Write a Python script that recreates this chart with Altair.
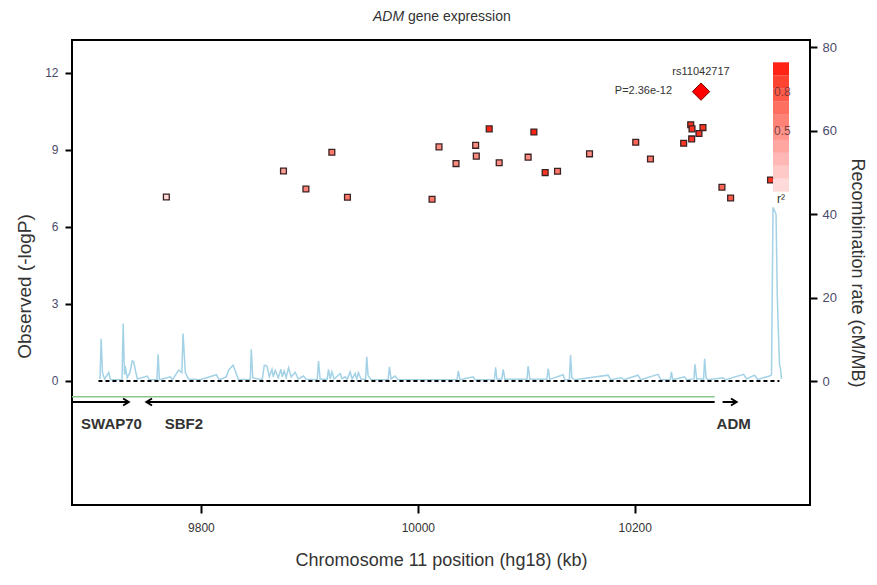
import altair as alt
import pandas as pd

FONT = "Liberation Sans"

# ---- SNP association results (-log10 P) ----
snp_kb = [9768.1, 9876.1, 9896.8, 9920.7, 9935.1, 10013.1, 10019.5, 10035.2, 10053.3, 10053.9,
          10065.8, 10075.0, 10101.7, 10107.0, 10117.4, 10128.8, 10158.3, 10200.9, 10214.5,
          10245.1, 10251.6, 10252.8, 10262.9, 10259.2, 10252.5, 10280.4, 10288.4, 10325.2]
snp_logp = [7.16, 8.17, 7.47, 8.90, 7.15, 7.07, 9.11, 8.46, 9.17, 8.75,
            9.81, 8.49, 8.71, 9.69, 8.11, 8.16, 8.84, 9.29, 8.64,
            9.25, 9.97, 9.81, 9.86, 9.63, 9.42, 7.54, 7.12, 7.82]
snp_r2 = [0.05, 0.4, 0.55, 0.6, 0.6, 0.6, 0.5, 0.5, 0.5, 0.5,
          0.95, 0.5, 0.5, 0.95, 0.9, 0.6, 0.5, 0.7, 0.6,
          0.9, 0.9, 0.9, 0.9, 0.9, 0.9, 0.7, 0.75, 0.9]

# ---- top SNP ----
top_name = ["rs11042717"]
top_kb = [10261.1]
top_logp = [11.26]
top_plabel = ["P=2.36e-12"]

# ---- recombination rate (cM/Mb) ----
recomb_kb = [9706.9, 9708.0, 9709.2, 9711.1, 9715.0, 9716.6, 9727.2, 9728.3, 9729.5, 9730.1,
             9732.0, 9734.5, 9736.6, 9738.0, 9739.6, 9741.4, 9750.4, 9752.5, 9759.4, 9760.5,
             9761.7, 9771.8, 9773.7, 9779.5, 9782.4, 9783.5, 9785.6, 9788.4, 9799.4, 9814.2,
             9816.9, 9823.4, 9825.5, 9829.6, 9831.7, 9834.4, 9845.5, 9846.4, 9847.8, 9856.5,
             9858.4, 9860.9, 9863.0, 9865.5, 9866.7, 9868.5, 9871.3, 9873.8, 9875.0, 9876.8,
             9878.6, 9880.8, 9883.2, 9886.9, 9889.7, 9894.6, 9897.1, 9907.2, 9908.4, 9909.9,
             9916.4, 9917.6, 9919.2, 9920.7, 9922.8, 9928.4, 9930.2, 9933.0, 9934.8, 9937.6,
             9939.4, 9942.2, 9943.6, 9945.2, 9947.7, 9951.8, 9952.9, 9954.1, 9956.9, 9972.6,
             9973.8, 9975.3, 9979.0, 9981.8, 10036.1, 10037.3, 10038.9, 10051.1, 10052.7, 10070.6,
             10071.7, 10072.9, 10077.5, 10078.7, 10080.3, 10100.6, 10101.7, 10103.3, 10119.0, 10120.2,
             10121.7, 10134.0, 10135.5, 10139.7, 10140.8, 10142.0, 10144.8, 10175.4, 10177.9, 10187.8,
             10189.9, 10203.0, 10205.5, 10221.5, 10224.0, 10232.7, 10233.8, 10235.0, 10246.0, 10247.9,
             10254.6, 10255.5, 10257.1, 10263.5, 10264.4, 10265.8, 10267.2, 10281.3, 10283.8, 10300.4,
             10303.1, 10310.5, 10313.3, 10324.3, 10326.1, 10327.5, 10330.3, 10331.4, 10332.3, 10333.5,
             10334.4, 10335.3]
recomb_rate = [0.5, 10.1, 2.0, 0.5, 2.0, 0.3, 0.3, 13.8, 1.5, 3.6,
               0.8, 2.0, 4.8, 4.6, 2.5, 0.5, 1.2, 0.3, 0.3, 6.4,
               0.3, 1.0, 0.3, 2.6, 2.0, 11.4, 2.0, 0.5, 0.3, 1.5,
               0.3, 1.0, 2.6, 3.8, 2.4, 0.4, 0.3, 7.6, 0.8, 0.3,
               3.8, 3.6, 1.0, 2.8, 1.0, 2.6, 0.8, 2.8, 1.0, 2.4,
               0.8, 3.2, 1.0, 2.1, 0.5, 1.2, 0.4, 0.3, 4.8, 0.4,
               0.4, 2.8, 0.5, 2.2, 0.5, 1.8, 0.5, 1.0, 0.4, 2.2,
               0.5, 1.8, 0.5, 2.0, 0.4, 0.4, 5.8, 1.3, 0.3, 0.3,
               3.4, 0.5, 1.2, 0.3, 0.3, 2.4, 0.3, 1.0, 0.3, 0.3,
               3.3, 0.5, 0.5, 2.8, 0.4, 0.4, 3.6, 0.4, 0.4, 3.0,
               0.4, 1.5, 0.3, 0.3, 6.2, 0.8, 0.3, 1.4, 0.3, 0.8,
               0.3, 1.4, 0.3, 1.6, 0.3, 0.3, 2.2, 0.3, 1.0, 0.3,
               0.5, 4.0, 0.5, 0.5, 5.3, 0.8, 0.3, 0.8, 0.3, 1.6,
               0.5, 1.4, 0.4, 1.2, 1.5, 41.6, 40.0, 20.8, 12.8, 4.0,
               3.0, 0.5]

# ---- SNP span (dashed baseline) ----
span_start = [9705.5]
span_end = [10333.4]

# ---- genes ----
gene_name = ["SWAP70", "SBF2", "ADM"]
gene_start = [9681.1, 9749.7, 10281.0]
gene_end = [9733.4, 10273.7, 10293.9]
gene_strand = ["+", "-", "+"]
gene_label_kb = [9717.5, 9784.3, 10291.2]
track_start = [9681.1]
track_end = [10273.7]

# ---- r^2 colour key ----
band_lo = [0.0, 0.1, 0.2, 0.3, 0.4, 0.5, 0.6, 0.7, 0.8, 0.9]
band_hi = [0.1, 0.2, 0.3, 0.4, 0.5, 0.6, 0.7, 0.8, 0.9, 1.0]
band_mid = [0.05, 0.15, 0.25, 0.35, 0.45, 0.55, 0.65, 0.75, 0.85, 0.95]
key_labels = ["0.8", "0.5"]
key_label_vals = [0.8, 0.5]

# axis ticks
x_ticks = [9800, 10000, 10200]
y_ticks = [0, 3, 6, 9, 12]
r_ticks = [0, 20, 40, 60, 80]

# ---------------- data frames ----------------
snp_df = pd.DataFrame({"kb": snp_kb, "logp": snp_logp, "r2": snp_r2})
top_df = pd.DataFrame({"name": top_name, "kb": top_kb, "logp": top_logp, "plabel": top_plabel})
rec_df = pd.DataFrame({"kb": recomb_kb, "rate": recomb_rate})
span_df = pd.DataFrame({"kb": span_start, "kb2": span_end, "logp": [0.0]})
genes_df = pd.DataFrame({"gene": gene_name, "kb": gene_start, "kb2": gene_end,
                         "strand": gene_strand, "label_kb": gene_label_kb})
genes_df["tip"] = [e if s == "+" else b for b, e, s in zip(gene_start, gene_end, gene_strand)]
genes_df["gy"] = -0.82
genes_df["ly"] = -1.67
track_df = pd.DataFrame({"kb": track_start, "kb2": track_end, "gy": [-0.62]})
band_df = pd.DataFrame({"lo": band_lo, "hi": band_hi, "r2": band_mid})
key_df = pd.DataFrame({"t": key_labels, "v": key_label_vals})
r2title_df = pd.DataFrame({"t": ["r²"], "v": [-0.06]})

x_scale = alt.Scale(domain=[9681.1, 10361.6], nice=False, zero=False)
y_scale = alt.Scale(domain=[-4.83, 13.27], nice=False, zero=False)
r_scale = alt.Scale(domain=[-29.7, 81.7], nice=False, zero=False)
key_scale = alt.Scale(domain=[0, 1], range=[151.7, 22.3], nice=False, zero=False)
color_scale = alt.Scale(domain=[0, 1], range=["#fbe3e3", "#ff0000"])

x_axis = alt.Axis(values=x_ticks, title="Chromosome 11 position (hg18) (kb)", format="d",
                  domain=False, grid=False, tickSize=8, tickWidth=2, tickColor="black",
                  labelFontSize=12, labelColor="#333333", labelPadding=9, labelFont=FONT,
                  titleFont=FONT, titleFontSize=18, titleFontWeight="normal",
                  titleColor="#333333", titlePadding=18)
y_axis = alt.Axis(orient="left", values=y_ticks, title="Observed (-logP)", domain=False,
                  grid=False, tickSize=7, tickWidth=2, tickColor="black", labelFontSize=12,
                  labelColor="#4b4b6b", labelPadding=7, labelFont=FONT, titleFont=FONT,
                  titleFontSize=19, titleFontWeight="normal", titleColor="#333333",
                  titlePadding=10, titleY=246)


def X(field):
    return alt.X(field, type="quantitative", scale=x_scale, axis=x_axis)


def Y(field):
    return alt.Y(field, type="quantitative", scale=y_scale, axis=y_axis)


# recombination line (right axis)
recomb = alt.Chart(rec_df).mark_line(color="#a3d2e6", strokeWidth=1.5).encode(
    x=X("kb"),
    y=alt.Y("rate:Q", scale=r_scale,
            axis=alt.Axis(orient="right", values=r_ticks, title="Recombination rate (cM/MB)",
                          domain=False, grid=False, tickSize=7, tickWidth=2,
                          tickColor="black", labelFontSize=13, labelColor="#4b4b6b",
                          labelPadding=5, labelFont=FONT, titleFont=FONT, titleFontSize=18,
                          titleFontWeight="normal", titleColor="#333333", titleAngle=90,
                          titlePadding=11)),
)

baseline = alt.Chart(span_df).mark_rule(color="black", strokeWidth=2, strokeDash=[4, 3]).encode(
    x=X("kb"), x2="kb2", y=Y("logp"))

track = alt.Chart(track_df).mark_rule(color="#8cc68c", strokeWidth=1.5).encode(
    x=X("kb"), x2="kb2", y=Y("gy"))

gene_lines = alt.Chart(genes_df).mark_rule(color="black", strokeWidth=2).encode(
    x=X("kb"), x2="kb2", y=Y("gy"))

arrow_right = alt.Chart(genes_df).transform_filter(alt.datum.strand == "+").mark_point(
    shape="M-1.6,-1L0,0L-1.6,1", filled=False, stroke="black", strokeWidth=2, size=49,
    opacity=1).encode(x=X("tip"), y=Y("gy"))
arrow_left = alt.Chart(genes_df).transform_filter(alt.datum.strand == "-").mark_point(
    shape="M1.6,-1L0,0L1.6,1", filled=False, stroke="black", strokeWidth=2, size=49,
    opacity=1).encode(x=X("tip"), y=Y("gy"))

gene_text = alt.Chart(genes_df).mark_text(font=FONT, fontSize=15, fontWeight="bold",
                                          color="#333333", baseline="middle").encode(
    x=X("label_kb"), y=Y("ly"), text="gene:N")

points = alt.Chart(snp_df).mark_square(size=34, stroke="#3b2222", strokeWidth=1.3,
                                        opacity=1).encode(
    x=X("kb"), y=Y("logp"),
    color=alt.Color("r2:Q", scale=color_scale, legend=None),
)

top_point = alt.Chart(top_df).mark_point(shape="diamond", filled=True, size=300,
                                         fill="#ff0000", stroke="#7a0000", strokeWidth=1,
                                         opacity=1).encode(x=X("kb"), y=Y("logp"))
top_name_text = alt.Chart(top_df).mark_text(font=FONT, fontSize=11, color="#333333", dy=-20,
                                            baseline="middle").encode(
    x=X("kb"), y=Y("logp"), text="name:N")
top_p_text = alt.Chart(top_df).mark_text(font=FONT, fontSize=11, color="#333333", dx=-29,
                                         dy=-1, align="right", baseline="middle").encode(
    x=X("kb"), y=Y("logp"), text="plabel:N")

title_a = alt.Chart(pd.DataFrame({"t": ["ADM"]})).mark_text(
    font=FONT, fontSize=14, fontStyle="italic", color="#333333", align="left",
    baseline="middle").encode(x=alt.value(301), y=alt.value(-23), text="t:N")
title_b = alt.Chart(pd.DataFrame({"t": ["gene expression"]})).mark_text(
    font=FONT, fontSize=14, color="#333333", align="left", baseline="middle").encode(
    x=alt.value(336), y=alt.value(-23), text="t:N")

logp_group = alt.layer(baseline, track, gene_lines, arrow_right, arrow_left, gene_text,
                       points, top_point, top_name_text, top_p_text, title_a, title_b)

# r^2 colour key
key_bands = alt.Chart(band_df).mark_rect().encode(
    x=alt.value(701), x2=alt.value(717),
    y=alt.Y("lo:Q", scale=key_scale, axis=None), y2="hi",
    color=alt.Color("r2:Q", scale=color_scale, legend=None),
)
key_text = alt.Chart(key_df).mark_text(font=FONT, fontSize=12, color="#6a3030", align="left",
                                       baseline="middle", dy=4, opacity=0.85).encode(
    x=alt.value(702), y=alt.Y("v:Q", scale=key_scale, axis=None), text="t:N")
key_title = alt.Chart(r2title_df).mark_text(font=FONT, fontSize=12, color="#333333",
                                            align="center", baseline="middle").encode(
    x=alt.value(709), y=alt.Y("v:Q", scale=key_scale, axis=None), text="t:N")
key_group = alt.layer(key_bands, key_text, key_title)

chart = alt.layer(recomb, logp_group, key_group).resolve_scale(y="independent").properties(
    width=738, height=465,
    autosize=alt.AutoSizeParams(type="none"),
    padding={"left": 64, "top": 32, "right": 58, "bottom": 70},
).configure(font=FONT).configure_view(stroke="black", strokeWidth=2)

chart.save("out.html", embed_options={"renderer": "svg", "actions": False})
